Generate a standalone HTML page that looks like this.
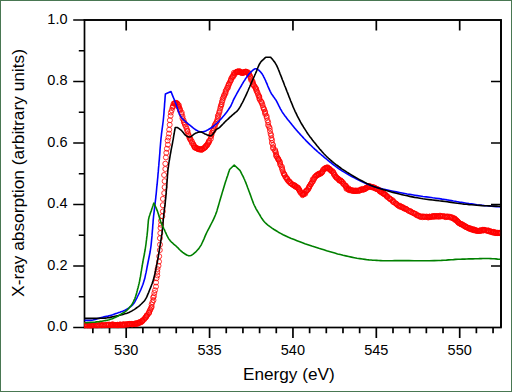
<!DOCTYPE html>
<html><head><meta charset="utf-8"><style>
html,body{margin:0;padding:0;background:#fff;}
body{width:512px;height:392px;position:relative;overflow:hidden;font-family:"Liberation Sans",sans-serif;color:#000;}
.frame{position:absolute;left:0;top:0;width:510px;height:390px;border:1px solid #497752;}
.yl{position:absolute;left:20px;width:47.5px;text-align:right;font-size:14.5px;line-height:20px;}
.xl{position:absolute;top:340.2px;width:60px;text-align:center;font-size:14.5px;line-height:20px;}
.xt{position:absolute;left:243px;top:363px;font-size:17.2px;line-height:22px;white-space:nowrap;}
.yt{position:absolute;left:18.2px;top:173.3px;font-size:17.3px;line-height:22px;white-space:nowrap;transform:translate(-50%,-50%) rotate(-90deg);}
</style></head><body>
<svg width="512" height="392" viewBox="0 0 512 392" style="position:absolute;left:0;top:0"><defs><clipPath id="c"><rect x="84" y="19" width="417" height="309.3"/></clipPath></defs><g stroke="#000" stroke-width="1.7" fill="none" stroke-linecap="butt"><rect x="84.5" y="20.0" width="416.5" height="307.5"/><path d="M73.2,327.50H84.5M73.2,266.00H84.5M73.2,204.50H84.5M73.2,143.00H84.5M73.2,81.50H84.5M73.2,20.00H84.5M78.8,296.75H84.5M78.8,235.25H84.5M78.8,173.75H84.5M78.8,112.25H84.5M78.8,50.75H84.5M92.85,327.5V333.3M109.53,327.5V333.3M126.20,327.5V338M142.88,327.5V333.3M159.55,327.5V333.3M176.23,327.5V333.3M192.90,327.5V333.3M209.57,327.5V338M226.25,327.5V333.3M242.93,327.5V333.3M259.60,327.5V333.3M276.28,327.5V333.3M292.95,327.5V338M309.62,327.5V333.3M326.30,327.5V333.3M342.98,327.5V333.3M359.65,327.5V333.3M376.32,327.5V338M393.00,327.5V333.3M409.68,327.5V333.3M426.35,327.5V333.3M443.02,327.5V333.3M459.70,327.5V338M476.38,327.5V333.3M493.05,327.5V333.3"/></g><g clip-path="url(#c)"><g fill="none" stroke="#ff0000" stroke-width="0.8" opacity="1"><circle cx="85.1" cy="324.8" r="2.5"/><circle cx="85.1" cy="325.4" r="2.5"/><circle cx="85.3" cy="325.5" r="2.5"/><circle cx="85.2" cy="325.5" r="2.5"/><circle cx="86.0" cy="326.6" r="2.5"/><circle cx="86.8" cy="325.5" r="2.5"/><circle cx="87.1" cy="325.4" r="2.5"/><circle cx="87.4" cy="325.4" r="2.5"/><circle cx="88.3" cy="325.5" r="2.5"/><circle cx="88.9" cy="325.5" r="2.5"/><circle cx="89.0" cy="326.0" r="2.5"/><circle cx="89.6" cy="325.4" r="2.5"/><circle cx="89.9" cy="325.7" r="2.5"/><circle cx="91.0" cy="325.4" r="2.5"/><circle cx="90.8" cy="325.8" r="2.5"/><circle cx="91.0" cy="325.4" r="2.5"/><circle cx="92.0" cy="325.7" r="2.5"/><circle cx="92.2" cy="325.7" r="2.5"/><circle cx="91.8" cy="325.8" r="2.5"/><circle cx="92.8" cy="325.0" r="2.5"/><circle cx="93.6" cy="325.7" r="2.5"/><circle cx="94.3" cy="325.1" r="2.5"/><circle cx="95.4" cy="325.4" r="2.5"/><circle cx="96.7" cy="325.7" r="2.5"/><circle cx="97.2" cy="325.8" r="2.5"/><circle cx="97.9" cy="325.1" r="2.5"/><circle cx="99.0" cy="325.6" r="2.5"/><circle cx="99.6" cy="325.1" r="2.5"/><circle cx="100.5" cy="324.6" r="2.5"/><circle cx="101.4" cy="325.5" r="2.5"/><circle cx="101.5" cy="325.3" r="2.5"/><circle cx="102.5" cy="325.5" r="2.5"/><circle cx="103.0" cy="325.0" r="2.5"/><circle cx="104.6" cy="325.5" r="2.5"/><circle cx="104.5" cy="325.0" r="2.5"/><circle cx="106.0" cy="325.0" r="2.5"/><circle cx="107.2" cy="324.8" r="2.5"/><circle cx="107.6" cy="324.8" r="2.5"/><circle cx="108.8" cy="325.0" r="2.5"/><circle cx="109.1" cy="324.5" r="2.5"/><circle cx="110.5" cy="325.2" r="2.5"/><circle cx="110.7" cy="325.3" r="2.5"/><circle cx="111.1" cy="324.8" r="2.5"/><circle cx="111.2" cy="324.7" r="2.5"/><circle cx="112.4" cy="324.5" r="2.5"/><circle cx="112.3" cy="324.8" r="2.5"/><circle cx="113.0" cy="325.1" r="2.5"/><circle cx="113.1" cy="324.4" r="2.5"/><circle cx="114.0" cy="325.3" r="2.5"/><circle cx="114.8" cy="325.0" r="2.5"/><circle cx="115.0" cy="325.0" r="2.5"/><circle cx="115.5" cy="325.1" r="2.5"/><circle cx="115.9" cy="324.9" r="2.5"/><circle cx="116.6" cy="325.0" r="2.5"/><circle cx="117.2" cy="325.6" r="2.5"/><circle cx="118.1" cy="325.3" r="2.5"/><circle cx="117.6" cy="324.7" r="2.5"/><circle cx="118.6" cy="325.0" r="2.5"/><circle cx="118.6" cy="325.2" r="2.5"/><circle cx="120.1" cy="324.4" r="2.5"/><circle cx="120.0" cy="324.6" r="2.5"/><circle cx="120.8" cy="325.0" r="2.5"/><circle cx="121.9" cy="324.7" r="2.5"/><circle cx="122.0" cy="324.8" r="2.5"/><circle cx="122.8" cy="325.0" r="2.5"/><circle cx="123.2" cy="324.4" r="2.5"/><circle cx="123.2" cy="324.4" r="2.5"/><circle cx="124.1" cy="324.9" r="2.5"/><circle cx="124.0" cy="324.5" r="2.5"/><circle cx="125.1" cy="324.4" r="2.5"/><circle cx="125.3" cy="324.7" r="2.5"/><circle cx="127.0" cy="324.4" r="2.5"/><circle cx="126.6" cy="324.1" r="2.5"/><circle cx="127.0" cy="324.6" r="2.5"/><circle cx="128.2" cy="324.4" r="2.5"/><circle cx="128.6" cy="324.3" r="2.5"/><circle cx="129.1" cy="323.8" r="2.5"/><circle cx="129.5" cy="324.2" r="2.5"/><circle cx="129.9" cy="324.0" r="2.5"/><circle cx="130.4" cy="324.0" r="2.5"/><circle cx="131.4" cy="323.9" r="2.5"/><circle cx="131.6" cy="324.2" r="2.5"/><circle cx="132.3" cy="324.4" r="2.5"/><circle cx="131.9" cy="324.1" r="2.5"/><circle cx="133.0" cy="323.8" r="2.5"/><circle cx="134.0" cy="324.0" r="2.5"/><circle cx="134.6" cy="323.7" r="2.5"/><circle cx="135.3" cy="323.5" r="2.5"/><circle cx="135.3" cy="323.7" r="2.5"/><circle cx="135.7" cy="324.1" r="2.5"/><circle cx="136.7" cy="324.0" r="2.5"/><circle cx="136.9" cy="323.1" r="2.5"/><circle cx="137.4" cy="323.3" r="2.5"/><circle cx="137.7" cy="323.1" r="2.5"/><circle cx="138.4" cy="323.4" r="2.5"/><circle cx="138.7" cy="323.1" r="2.5"/><circle cx="139.2" cy="322.3" r="2.5"/><circle cx="139.7" cy="322.1" r="2.5"/><circle cx="140.5" cy="322.5" r="2.5"/><circle cx="141.0" cy="322.1" r="2.5"/><circle cx="142.1" cy="321.6" r="2.5"/><circle cx="142.2" cy="320.9" r="2.5"/><circle cx="142.3" cy="320.7" r="2.5"/><circle cx="142.9" cy="320.1" r="2.5"/><circle cx="144.0" cy="319.6" r="2.5"/><circle cx="144.6" cy="318.4" r="2.5"/><circle cx="145.4" cy="317.8" r="2.5"/><circle cx="145.8" cy="317.3" r="2.5"/><circle cx="146.3" cy="316.6" r="2.5"/><circle cx="146.6" cy="315.9" r="2.5"/><circle cx="146.7" cy="315.3" r="2.5"/><circle cx="147.6" cy="314.8" r="2.5"/><circle cx="148.9" cy="313.1" r="2.5"/><circle cx="149.0" cy="312.7" r="2.5"/><circle cx="149.2" cy="312.0" r="2.5"/><circle cx="149.8" cy="310.4" r="2.5"/><circle cx="150.4" cy="309.6" r="2.5"/><circle cx="151.1" cy="307.8" r="2.5"/><circle cx="151.7" cy="306.9" r="2.5"/><circle cx="151.6" cy="304.5" r="2.5"/><circle cx="152.4" cy="302.2" r="2.5"/><circle cx="153.5" cy="300.1" r="2.5"/><circle cx="153.1" cy="297.5" r="2.5"/><circle cx="153.9" cy="296.2" r="2.5"/><circle cx="154.3" cy="293.0" r="2.5"/><circle cx="155.0" cy="290.3" r="2.5"/><circle cx="156.0" cy="286.6" r="2.5"/><circle cx="156.0" cy="282.5" r="2.5"/><circle cx="156.5" cy="278.2" r="2.5"/><circle cx="157.3" cy="275.4" r="2.5"/><circle cx="157.3" cy="272.0" r="2.5"/><circle cx="157.5" cy="269.1" r="2.5"/><circle cx="158.5" cy="265.8" r="2.5"/><circle cx="159.0" cy="261.6" r="2.5"/><circle cx="159.2" cy="256.3" r="2.5"/><circle cx="159.8" cy="250.1" r="2.5"/><circle cx="160.0" cy="244.6" r="2.5"/><circle cx="159.9" cy="238.2" r="2.5"/><circle cx="160.3" cy="233.1" r="2.5"/><circle cx="160.5" cy="227.9" r="2.5"/><circle cx="161.0" cy="224.7" r="2.5"/><circle cx="161.0" cy="220.8" r="2.5"/><circle cx="162.3" cy="216.2" r="2.5"/><circle cx="162.9" cy="211.4" r="2.5"/><circle cx="162.8" cy="205.2" r="2.5"/><circle cx="162.9" cy="198.9" r="2.5"/><circle cx="164.2" cy="193.1" r="2.5"/><circle cx="164.6" cy="187.2" r="2.5"/><circle cx="164.6" cy="181.2" r="2.5"/><circle cx="164.1" cy="175.0" r="2.5"/><circle cx="165.3" cy="169.0" r="2.5"/><circle cx="165.3" cy="163.7" r="2.5"/><circle cx="165.9" cy="157.4" r="2.5"/><circle cx="166.3" cy="152.8" r="2.5"/><circle cx="166.9" cy="148.7" r="2.5"/><circle cx="167.9" cy="144.7" r="2.5"/><circle cx="167.6" cy="140.6" r="2.5"/><circle cx="168.4" cy="137.5" r="2.5"/><circle cx="169.0" cy="133.6" r="2.5"/><circle cx="169.2" cy="129.7" r="2.5"/><circle cx="169.7" cy="124.8" r="2.5"/><circle cx="169.9" cy="120.2" r="2.5"/><circle cx="170.6" cy="115.8" r="2.5"/><circle cx="170.9" cy="112.5" r="2.5"/><circle cx="171.7" cy="110.2" r="2.5"/><circle cx="172.5" cy="107.5" r="2.5"/><circle cx="173.0" cy="106.5" r="2.5"/><circle cx="173.1" cy="105.7" r="2.5"/><circle cx="173.6" cy="103.6" r="2.5"/><circle cx="174.5" cy="103.7" r="2.5"/><circle cx="175.2" cy="103.1" r="2.5"/><circle cx="174.9" cy="103.4" r="2.5"/><circle cx="175.4" cy="102.9" r="2.5"/><circle cx="176.6" cy="102.9" r="2.5"/><circle cx="176.6" cy="103.3" r="2.5"/><circle cx="177.4" cy="103.6" r="2.5"/><circle cx="177.9" cy="104.7" r="2.5"/><circle cx="178.9" cy="105.3" r="2.5"/><circle cx="178.4" cy="106.6" r="2.5"/><circle cx="179.0" cy="107.4" r="2.5"/><circle cx="179.7" cy="108.7" r="2.5"/><circle cx="179.9" cy="109.4" r="2.5"/><circle cx="180.0" cy="110.7" r="2.5"/><circle cx="181.7" cy="112.5" r="2.5"/><circle cx="181.6" cy="114.1" r="2.5"/><circle cx="182.5" cy="116.4" r="2.5"/><circle cx="182.5" cy="118.4" r="2.5"/><circle cx="183.6" cy="120.3" r="2.5"/><circle cx="183.8" cy="122.1" r="2.5"/><circle cx="184.7" cy="123.2" r="2.5"/><circle cx="184.9" cy="124.8" r="2.5"/><circle cx="185.9" cy="126.6" r="2.5"/><circle cx="186.6" cy="128.6" r="2.5"/><circle cx="187.3" cy="130.5" r="2.5"/><circle cx="187.5" cy="131.4" r="2.5"/><circle cx="188.2" cy="133.9" r="2.5"/><circle cx="188.8" cy="135.5" r="2.5"/><circle cx="189.3" cy="136.8" r="2.5"/><circle cx="189.6" cy="138.3" r="2.5"/><circle cx="190.5" cy="138.9" r="2.5"/><circle cx="190.6" cy="140.2" r="2.5"/><circle cx="192.0" cy="141.5" r="2.5"/><circle cx="191.9" cy="143.0" r="2.5"/><circle cx="193.2" cy="143.9" r="2.5"/><circle cx="193.6" cy="145.0" r="2.5"/><circle cx="194.1" cy="145.8" r="2.5"/><circle cx="194.4" cy="146.9" r="2.5"/><circle cx="195.1" cy="147.6" r="2.5"/><circle cx="194.9" cy="147.6" r="2.5"/><circle cx="196.3" cy="147.7" r="2.5"/><circle cx="196.7" cy="148.4" r="2.5"/><circle cx="197.3" cy="148.4" r="2.5"/><circle cx="197.8" cy="149.1" r="2.5"/><circle cx="198.8" cy="149.1" r="2.5"/><circle cx="199.1" cy="149.4" r="2.5"/><circle cx="200.1" cy="149.1" r="2.5"/><circle cx="200.0" cy="149.6" r="2.5"/><circle cx="200.7" cy="149.4" r="2.5"/><circle cx="201.7" cy="149.7" r="2.5"/><circle cx="201.9" cy="149.6" r="2.5"/><circle cx="202.3" cy="149.3" r="2.5"/><circle cx="202.9" cy="148.5" r="2.5"/><circle cx="204.1" cy="148.3" r="2.5"/><circle cx="204.3" cy="147.8" r="2.5"/><circle cx="205.2" cy="147.3" r="2.5"/><circle cx="205.5" cy="147.0" r="2.5"/><circle cx="205.8" cy="145.9" r="2.5"/><circle cx="206.4" cy="145.7" r="2.5"/><circle cx="207.3" cy="145.1" r="2.5"/><circle cx="207.5" cy="144.0" r="2.5"/><circle cx="208.3" cy="143.0" r="2.5"/><circle cx="208.8" cy="142.4" r="2.5"/><circle cx="208.8" cy="141.2" r="2.5"/><circle cx="209.5" cy="140.7" r="2.5"/><circle cx="210.9" cy="138.7" r="2.5"/><circle cx="210.7" cy="136.5" r="2.5"/><circle cx="211.3" cy="135.6" r="2.5"/><circle cx="211.5" cy="134.3" r="2.5"/><circle cx="211.8" cy="132.8" r="2.5"/><circle cx="212.9" cy="131.0" r="2.5"/><circle cx="213.6" cy="130.3" r="2.5"/><circle cx="213.5" cy="128.0" r="2.5"/><circle cx="214.7" cy="126.9" r="2.5"/><circle cx="214.7" cy="125.3" r="2.5"/><circle cx="215.5" cy="123.8" r="2.5"/><circle cx="216.4" cy="122.3" r="2.5"/><circle cx="217.2" cy="121.1" r="2.5"/><circle cx="217.4" cy="119.4" r="2.5"/><circle cx="218.1" cy="117.7" r="2.5"/><circle cx="217.8" cy="116.0" r="2.5"/><circle cx="218.7" cy="114.5" r="2.5"/><circle cx="219.2" cy="112.4" r="2.5"/><circle cx="219.7" cy="111.0" r="2.5"/><circle cx="220.2" cy="108.6" r="2.5"/><circle cx="220.7" cy="106.8" r="2.5"/><circle cx="221.1" cy="105.2" r="2.5"/><circle cx="221.6" cy="104.2" r="2.5"/><circle cx="221.9" cy="102.0" r="2.5"/><circle cx="222.5" cy="100.5" r="2.5"/><circle cx="222.7" cy="98.6" r="2.5"/><circle cx="223.5" cy="97.6" r="2.5"/><circle cx="224.0" cy="96.0" r="2.5"/><circle cx="224.2" cy="95.0" r="2.5"/><circle cx="225.4" cy="93.7" r="2.5"/><circle cx="225.5" cy="92.4" r="2.5"/><circle cx="225.7" cy="90.9" r="2.5"/><circle cx="226.5" cy="89.8" r="2.5"/><circle cx="227.1" cy="88.0" r="2.5"/><circle cx="228.0" cy="87.6" r="2.5"/><circle cx="228.1" cy="85.9" r="2.5"/><circle cx="228.8" cy="84.8" r="2.5"/><circle cx="228.9" cy="83.8" r="2.5"/><circle cx="229.8" cy="82.5" r="2.5"/><circle cx="230.5" cy="80.9" r="2.5"/><circle cx="230.9" cy="80.2" r="2.5"/><circle cx="231.2" cy="78.8" r="2.5"/><circle cx="231.8" cy="77.4" r="2.5"/><circle cx="232.8" cy="77.2" r="2.5"/><circle cx="232.9" cy="76.4" r="2.5"/><circle cx="233.2" cy="75.2" r="2.5"/><circle cx="234.5" cy="74.8" r="2.5"/><circle cx="233.9" cy="72.8" r="2.5"/><circle cx="234.8" cy="73.5" r="2.5"/><circle cx="235.5" cy="72.6" r="2.5"/><circle cx="236.4" cy="71.9" r="2.5"/><circle cx="236.7" cy="72.1" r="2.5"/><circle cx="237.2" cy="71.7" r="2.5"/><circle cx="237.4" cy="71.6" r="2.5"/><circle cx="237.9" cy="71.8" r="2.5"/><circle cx="239.2" cy="71.2" r="2.5"/><circle cx="238.3" cy="71.4" r="2.5"/><circle cx="239.5" cy="71.9" r="2.5"/><circle cx="240.2" cy="71.5" r="2.5"/><circle cx="240.2" cy="72.3" r="2.5"/><circle cx="240.6" cy="72.5" r="2.5"/><circle cx="241.3" cy="72.7" r="2.5"/><circle cx="242.0" cy="72.9" r="2.5"/><circle cx="242.6" cy="72.5" r="2.5"/><circle cx="242.9" cy="72.8" r="2.5"/><circle cx="243.4" cy="73.0" r="2.5"/><circle cx="243.8" cy="72.2" r="2.5"/><circle cx="244.2" cy="72.1" r="2.5"/><circle cx="245.1" cy="71.8" r="2.5"/><circle cx="245.7" cy="72.0" r="2.5"/><circle cx="245.8" cy="71.5" r="2.5"/><circle cx="246.4" cy="72.0" r="2.5"/><circle cx="246.3" cy="72.2" r="2.5"/><circle cx="247.9" cy="72.2" r="2.5"/><circle cx="248.0" cy="73.3" r="2.5"/><circle cx="248.7" cy="73.0" r="2.5"/><circle cx="248.9" cy="74.2" r="2.5"/><circle cx="249.3" cy="74.5" r="2.5"/><circle cx="250.1" cy="76.0" r="2.5"/><circle cx="250.4" cy="77.3" r="2.5"/><circle cx="251.1" cy="78.5" r="2.5"/><circle cx="251.1" cy="80.0" r="2.5"/><circle cx="252.3" cy="80.9" r="2.5"/><circle cx="252.9" cy="82.3" r="2.5"/><circle cx="252.8" cy="83.6" r="2.5"/><circle cx="253.2" cy="84.5" r="2.5"/><circle cx="253.9" cy="85.4" r="2.5"/><circle cx="254.2" cy="86.1" r="2.5"/><circle cx="255.4" cy="87.4" r="2.5"/><circle cx="255.7" cy="88.4" r="2.5"/><circle cx="256.3" cy="89.2" r="2.5"/><circle cx="256.4" cy="90.7" r="2.5"/><circle cx="257.0" cy="91.7" r="2.5"/><circle cx="257.7" cy="93.1" r="2.5"/><circle cx="258.2" cy="95.0" r="2.5"/><circle cx="259.1" cy="96.1" r="2.5"/><circle cx="259.3" cy="96.9" r="2.5"/><circle cx="259.4" cy="98.3" r="2.5"/><circle cx="259.7" cy="99.6" r="2.5"/><circle cx="261.0" cy="101.5" r="2.5"/><circle cx="261.6" cy="102.1" r="2.5"/><circle cx="261.9" cy="103.4" r="2.5"/><circle cx="262.6" cy="105.1" r="2.5"/><circle cx="263.2" cy="107.4" r="2.5"/><circle cx="263.8" cy="108.8" r="2.5"/><circle cx="264.1" cy="109.5" r="2.5"/><circle cx="265.1" cy="111.6" r="2.5"/><circle cx="265.0" cy="112.6" r="2.5"/><circle cx="265.3" cy="114.1" r="2.5"/><circle cx="266.6" cy="116.0" r="2.5"/><circle cx="266.7" cy="117.6" r="2.5"/><circle cx="267.5" cy="120.4" r="2.5"/><circle cx="268.2" cy="122.4" r="2.5"/><circle cx="268.1" cy="125.1" r="2.5"/><circle cx="269.0" cy="126.7" r="2.5"/><circle cx="269.7" cy="128.2" r="2.5"/><circle cx="270.0" cy="131.0" r="2.5"/><circle cx="270.6" cy="133.8" r="2.5"/><circle cx="271.2" cy="135.3" r="2.5"/><circle cx="271.4" cy="138.3" r="2.5"/><circle cx="272.0" cy="140.1" r="2.5"/><circle cx="271.9" cy="143.0" r="2.5"/><circle cx="273.1" cy="145.0" r="2.5"/><circle cx="273.0" cy="147.4" r="2.5"/><circle cx="273.2" cy="148.6" r="2.5"/><circle cx="275.2" cy="150.1" r="2.5"/><circle cx="275.1" cy="151.2" r="2.5"/><circle cx="275.9" cy="152.5" r="2.5"/><circle cx="276.1" cy="154.3" r="2.5"/><circle cx="276.2" cy="155.8" r="2.5"/><circle cx="276.6" cy="156.5" r="2.5"/><circle cx="277.5" cy="157.6" r="2.5"/><circle cx="278.1" cy="158.8" r="2.5"/><circle cx="278.3" cy="159.3" r="2.5"/><circle cx="278.7" cy="160.2" r="2.5"/><circle cx="279.6" cy="161.2" r="2.5"/><circle cx="280.0" cy="162.5" r="2.5"/><circle cx="280.1" cy="164.0" r="2.5"/><circle cx="280.6" cy="165.4" r="2.5"/><circle cx="281.9" cy="166.8" r="2.5"/><circle cx="282.0" cy="168.3" r="2.5"/><circle cx="282.3" cy="169.7" r="2.5"/><circle cx="282.9" cy="171.4" r="2.5"/><circle cx="283.6" cy="173.3" r="2.5"/><circle cx="284.1" cy="174.0" r="2.5"/><circle cx="284.5" cy="174.7" r="2.5"/><circle cx="284.7" cy="175.2" r="2.5"/><circle cx="285.5" cy="177.2" r="2.5"/><circle cx="286.2" cy="177.5" r="2.5"/><circle cx="287.1" cy="178.4" r="2.5"/><circle cx="287.0" cy="179.0" r="2.5"/><circle cx="287.5" cy="180.2" r="2.5"/><circle cx="289.0" cy="181.0" r="2.5"/><circle cx="288.7" cy="181.5" r="2.5"/><circle cx="289.5" cy="181.7" r="2.5"/><circle cx="290.2" cy="183.0" r="2.5"/><circle cx="290.9" cy="183.4" r="2.5"/><circle cx="291.1" cy="183.2" r="2.5"/><circle cx="292.5" cy="184.5" r="2.5"/><circle cx="292.3" cy="184.6" r="2.5"/><circle cx="293.4" cy="185.1" r="2.5"/><circle cx="294.1" cy="185.2" r="2.5"/><circle cx="294.7" cy="185.8" r="2.5"/><circle cx="295.1" cy="185.5" r="2.5"/><circle cx="294.7" cy="186.2" r="2.5"/><circle cx="295.6" cy="186.8" r="2.5"/><circle cx="296.8" cy="187.1" r="2.5"/><circle cx="296.9" cy="187.3" r="2.5"/><circle cx="297.9" cy="187.5" r="2.5"/><circle cx="298.4" cy="188.4" r="2.5"/><circle cx="298.7" cy="189.1" r="2.5"/><circle cx="298.9" cy="189.5" r="2.5"/><circle cx="299.3" cy="189.8" r="2.5"/><circle cx="299.7" cy="190.9" r="2.5"/><circle cx="300.2" cy="191.7" r="2.5"/><circle cx="300.6" cy="192.8" r="2.5"/><circle cx="302.0" cy="193.3" r="2.5"/><circle cx="302.4" cy="194.1" r="2.5"/><circle cx="303.0" cy="194.4" r="2.5"/><circle cx="302.5" cy="195.2" r="2.5"/><circle cx="303.4" cy="194.4" r="2.5"/><circle cx="303.7" cy="194.0" r="2.5"/><circle cx="304.3" cy="193.7" r="2.5"/><circle cx="305.3" cy="193.7" r="2.5"/><circle cx="304.9" cy="192.2" r="2.5"/><circle cx="305.8" cy="191.2" r="2.5"/><circle cx="306.5" cy="191.0" r="2.5"/><circle cx="306.8" cy="190.2" r="2.5"/><circle cx="307.6" cy="190.1" r="2.5"/><circle cx="308.4" cy="188.9" r="2.5"/><circle cx="308.7" cy="188.0" r="2.5"/><circle cx="309.1" cy="187.1" r="2.5"/><circle cx="309.6" cy="186.3" r="2.5"/><circle cx="309.6" cy="185.8" r="2.5"/><circle cx="310.7" cy="184.4" r="2.5"/><circle cx="310.9" cy="184.0" r="2.5"/><circle cx="311.6" cy="182.8" r="2.5"/><circle cx="312.1" cy="182.0" r="2.5"/><circle cx="313.0" cy="181.2" r="2.5"/><circle cx="312.7" cy="179.4" r="2.5"/><circle cx="313.7" cy="179.5" r="2.5"/><circle cx="314.3" cy="178.5" r="2.5"/><circle cx="314.6" cy="177.0" r="2.5"/><circle cx="315.6" cy="176.7" r="2.5"/><circle cx="316.1" cy="175.7" r="2.5"/><circle cx="316.5" cy="175.5" r="2.5"/><circle cx="317.2" cy="175.1" r="2.5"/><circle cx="317.3" cy="174.8" r="2.5"/><circle cx="318.4" cy="174.6" r="2.5"/><circle cx="318.3" cy="174.0" r="2.5"/><circle cx="318.8" cy="174.5" r="2.5"/><circle cx="319.1" cy="173.5" r="2.5"/><circle cx="320.4" cy="173.8" r="2.5"/><circle cx="320.7" cy="173.3" r="2.5"/><circle cx="321.5" cy="172.9" r="2.5"/><circle cx="321.8" cy="172.5" r="2.5"/><circle cx="322.4" cy="171.9" r="2.5"/><circle cx="322.6" cy="171.0" r="2.5"/><circle cx="323.1" cy="169.7" r="2.5"/><circle cx="324.1" cy="169.2" r="2.5"/><circle cx="324.6" cy="168.6" r="2.5"/><circle cx="325.5" cy="168.4" r="2.5"/><circle cx="325.2" cy="168.1" r="2.5"/><circle cx="326.4" cy="167.6" r="2.5"/><circle cx="326.8" cy="168.4" r="2.5"/><circle cx="327.4" cy="167.9" r="2.5"/><circle cx="327.4" cy="168.2" r="2.5"/><circle cx="327.6" cy="167.3" r="2.5"/><circle cx="328.3" cy="168.2" r="2.5"/><circle cx="329.5" cy="168.9" r="2.5"/><circle cx="329.2" cy="168.8" r="2.5"/><circle cx="330.1" cy="169.3" r="2.5"/><circle cx="330.2" cy="170.0" r="2.5"/><circle cx="330.9" cy="170.4" r="2.5"/><circle cx="331.5" cy="171.3" r="2.5"/><circle cx="332.5" cy="171.1" r="2.5"/><circle cx="333.4" cy="172.3" r="2.5"/><circle cx="333.5" cy="172.9" r="2.5"/><circle cx="333.8" cy="174.0" r="2.5"/><circle cx="334.3" cy="175.0" r="2.5"/><circle cx="335.1" cy="175.3" r="2.5"/><circle cx="335.4" cy="176.6" r="2.5"/><circle cx="336.2" cy="177.0" r="2.5"/><circle cx="336.5" cy="177.8" r="2.5"/><circle cx="336.8" cy="177.9" r="2.5"/><circle cx="338.1" cy="178.6" r="2.5"/><circle cx="338.2" cy="178.9" r="2.5"/><circle cx="339.1" cy="180.0" r="2.5"/><circle cx="339.1" cy="180.0" r="2.5"/><circle cx="339.5" cy="180.7" r="2.5"/><circle cx="340.5" cy="180.2" r="2.5"/><circle cx="341.2" cy="181.0" r="2.5"/><circle cx="341.4" cy="181.3" r="2.5"/><circle cx="341.6" cy="181.5" r="2.5"/><circle cx="342.7" cy="182.2" r="2.5"/><circle cx="342.9" cy="183.6" r="2.5"/><circle cx="343.7" cy="183.7" r="2.5"/><circle cx="344.3" cy="184.9" r="2.5"/><circle cx="345.4" cy="185.7" r="2.5"/><circle cx="345.9" cy="185.7" r="2.5"/><circle cx="346.0" cy="186.6" r="2.5"/><circle cx="346.5" cy="187.5" r="2.5"/><circle cx="346.4" cy="188.8" r="2.5"/><circle cx="347.2" cy="188.5" r="2.5"/><circle cx="348.2" cy="189.1" r="2.5"/><circle cx="348.6" cy="188.3" r="2.5"/><circle cx="348.7" cy="189.7" r="2.5"/><circle cx="349.2" cy="189.4" r="2.5"/><circle cx="349.2" cy="190.3" r="2.5"/><circle cx="350.6" cy="189.9" r="2.5"/><circle cx="350.9" cy="190.3" r="2.5"/><circle cx="351.1" cy="190.3" r="2.5"/><circle cx="352.0" cy="190.7" r="2.5"/><circle cx="352.8" cy="190.6" r="2.5"/><circle cx="352.8" cy="190.8" r="2.5"/><circle cx="353.2" cy="190.4" r="2.5"/><circle cx="354.3" cy="190.7" r="2.5"/><circle cx="354.5" cy="191.0" r="2.5"/><circle cx="354.6" cy="191.0" r="2.5"/><circle cx="355.6" cy="190.8" r="2.5"/><circle cx="356.1" cy="190.6" r="2.5"/><circle cx="355.8" cy="190.7" r="2.5"/><circle cx="356.8" cy="191.0" r="2.5"/><circle cx="357.7" cy="190.5" r="2.5"/><circle cx="358.3" cy="191.0" r="2.5"/><circle cx="359.2" cy="190.6" r="2.5"/><circle cx="359.6" cy="190.3" r="2.5"/><circle cx="360.0" cy="190.4" r="2.5"/><circle cx="360.6" cy="190.2" r="2.5"/><circle cx="360.9" cy="189.4" r="2.5"/><circle cx="361.4" cy="189.6" r="2.5"/><circle cx="362.9" cy="189.9" r="2.5"/><circle cx="362.7" cy="188.9" r="2.5"/><circle cx="363.8" cy="189.3" r="2.5"/><circle cx="363.7" cy="189.3" r="2.5"/><circle cx="364.7" cy="189.2" r="2.5"/><circle cx="365.2" cy="188.9" r="2.5"/><circle cx="365.7" cy="188.1" r="2.5"/><circle cx="366.0" cy="187.9" r="2.5"/><circle cx="366.9" cy="187.5" r="2.5"/><circle cx="366.7" cy="187.6" r="2.5"/><circle cx="368.0" cy="187.5" r="2.5"/><circle cx="368.5" cy="186.4" r="2.5"/><circle cx="368.6" cy="186.4" r="2.5"/><circle cx="369.2" cy="185.9" r="2.5"/><circle cx="369.9" cy="186.6" r="2.5"/><circle cx="370.1" cy="186.6" r="2.5"/><circle cx="371.3" cy="186.7" r="2.5"/><circle cx="371.8" cy="187.1" r="2.5"/><circle cx="372.2" cy="187.1" r="2.5"/><circle cx="372.5" cy="187.5" r="2.5"/><circle cx="373.1" cy="187.2" r="2.5"/><circle cx="374.1" cy="187.4" r="2.5"/><circle cx="374.6" cy="188.2" r="2.5"/><circle cx="375.1" cy="188.2" r="2.5"/><circle cx="376.0" cy="188.7" r="2.5"/><circle cx="375.8" cy="188.4" r="2.5"/><circle cx="377.3" cy="189.2" r="2.5"/><circle cx="376.8" cy="189.0" r="2.5"/><circle cx="378.0" cy="189.4" r="2.5"/><circle cx="378.7" cy="190.1" r="2.5"/><circle cx="379.3" cy="190.0" r="2.5"/><circle cx="379.9" cy="191.4" r="2.5"/><circle cx="380.1" cy="191.6" r="2.5"/><circle cx="381.2" cy="191.8" r="2.5"/><circle cx="381.4" cy="191.6" r="2.5"/><circle cx="381.8" cy="192.7" r="2.5"/><circle cx="382.9" cy="193.2" r="2.5"/><circle cx="383.4" cy="193.6" r="2.5"/><circle cx="383.6" cy="193.4" r="2.5"/><circle cx="384.3" cy="194.4" r="2.5"/><circle cx="384.9" cy="194.3" r="2.5"/><circle cx="385.3" cy="194.7" r="2.5"/><circle cx="386.1" cy="195.3" r="2.5"/><circle cx="386.6" cy="196.2" r="2.5"/><circle cx="387.3" cy="197.1" r="2.5"/><circle cx="387.6" cy="196.5" r="2.5"/><circle cx="389.0" cy="198.2" r="2.5"/><circle cx="389.8" cy="198.5" r="2.5"/><circle cx="390.2" cy="199.0" r="2.5"/><circle cx="390.4" cy="199.4" r="2.5"/><circle cx="391.6" cy="200.0" r="2.5"/><circle cx="392.8" cy="200.3" r="2.5"/><circle cx="392.8" cy="201.7" r="2.5"/><circle cx="393.5" cy="201.7" r="2.5"/><circle cx="394.0" cy="202.4" r="2.5"/><circle cx="395.6" cy="203.3" r="2.5"/><circle cx="396.0" cy="203.5" r="2.5"/><circle cx="396.8" cy="204.3" r="2.5"/><circle cx="397.0" cy="204.6" r="2.5"/><circle cx="398.1" cy="205.5" r="2.5"/><circle cx="398.7" cy="205.7" r="2.5"/><circle cx="400.0" cy="205.7" r="2.5"/><circle cx="399.7" cy="206.6" r="2.5"/><circle cx="400.9" cy="206.7" r="2.5"/><circle cx="401.6" cy="206.9" r="2.5"/><circle cx="402.4" cy="207.3" r="2.5"/><circle cx="403.2" cy="207.4" r="2.5"/><circle cx="403.4" cy="208.1" r="2.5"/><circle cx="404.2" cy="208.6" r="2.5"/><circle cx="405.1" cy="208.5" r="2.5"/><circle cx="405.9" cy="208.9" r="2.5"/><circle cx="406.1" cy="209.0" r="2.5"/><circle cx="407.0" cy="209.6" r="2.5"/><circle cx="408.0" cy="210.4" r="2.5"/><circle cx="409.0" cy="211.1" r="2.5"/><circle cx="410.1" cy="210.9" r="2.5"/><circle cx="411.0" cy="211.8" r="2.5"/><circle cx="411.2" cy="212.1" r="2.5"/><circle cx="412.6" cy="212.6" r="2.5"/><circle cx="413.4" cy="213.1" r="2.5"/><circle cx="414.2" cy="213.4" r="2.5"/><circle cx="415.0" cy="213.9" r="2.5"/><circle cx="415.9" cy="214.0" r="2.5"/><circle cx="416.7" cy="215.3" r="2.5"/><circle cx="417.6" cy="215.4" r="2.5"/><circle cx="418.5" cy="215.5" r="2.5"/><circle cx="419.0" cy="216.0" r="2.5"/><circle cx="420.0" cy="216.7" r="2.5"/><circle cx="420.6" cy="216.9" r="2.5"/><circle cx="421.2" cy="216.5" r="2.5"/><circle cx="422.4" cy="217.2" r="2.5"/><circle cx="422.9" cy="216.3" r="2.5"/><circle cx="424.0" cy="217.0" r="2.5"/><circle cx="424.3" cy="216.7" r="2.5"/><circle cx="425.1" cy="217.0" r="2.5"/><circle cx="426.3" cy="216.5" r="2.5"/><circle cx="427.5" cy="216.9" r="2.5"/><circle cx="427.4" cy="217.1" r="2.5"/><circle cx="428.3" cy="217.5" r="2.5"/><circle cx="429.3" cy="216.7" r="2.5"/><circle cx="429.5" cy="216.6" r="2.5"/><circle cx="430.2" cy="216.9" r="2.5"/><circle cx="430.8" cy="217.1" r="2.5"/><circle cx="431.7" cy="216.6" r="2.5"/><circle cx="432.6" cy="216.0" r="2.5"/><circle cx="432.6" cy="216.7" r="2.5"/><circle cx="433.4" cy="216.5" r="2.5"/><circle cx="434.1" cy="216.3" r="2.5"/><circle cx="434.4" cy="216.0" r="2.5"/><circle cx="434.5" cy="216.8" r="2.5"/><circle cx="435.3" cy="216.1" r="2.5"/><circle cx="436.5" cy="216.6" r="2.5"/><circle cx="436.5" cy="216.1" r="2.5"/><circle cx="437.1" cy="216.0" r="2.5"/><circle cx="437.9" cy="216.3" r="2.5"/><circle cx="438.3" cy="216.4" r="2.5"/><circle cx="439.0" cy="216.7" r="2.5"/><circle cx="439.9" cy="215.7" r="2.5"/><circle cx="440.3" cy="215.9" r="2.5"/><circle cx="440.4" cy="216.5" r="2.5"/><circle cx="441.4" cy="216.2" r="2.5"/><circle cx="442.8" cy="216.1" r="2.5"/><circle cx="443.0" cy="216.4" r="2.5"/><circle cx="444.6" cy="216.6" r="2.5"/><circle cx="444.6" cy="216.3" r="2.5"/><circle cx="445.5" cy="217.1" r="2.5"/><circle cx="446.3" cy="216.8" r="2.5"/><circle cx="446.8" cy="216.5" r="2.5"/><circle cx="447.1" cy="216.8" r="2.5"/><circle cx="447.5" cy="216.7" r="2.5"/><circle cx="448.9" cy="216.5" r="2.5"/><circle cx="449.8" cy="217.2" r="2.5"/><circle cx="450.7" cy="216.9" r="2.5"/><circle cx="451.2" cy="217.8" r="2.5"/><circle cx="452.2" cy="217.4" r="2.5"/><circle cx="452.8" cy="218.3" r="2.5"/><circle cx="453.3" cy="218.3" r="2.5"/><circle cx="454.6" cy="218.5" r="2.5"/><circle cx="454.4" cy="218.5" r="2.5"/><circle cx="454.7" cy="219.7" r="2.5"/><circle cx="455.4" cy="219.3" r="2.5"/><circle cx="455.6" cy="220.0" r="2.5"/><circle cx="456.6" cy="220.3" r="2.5"/><circle cx="457.1" cy="220.8" r="2.5"/><circle cx="457.4" cy="221.5" r="2.5"/><circle cx="458.0" cy="221.7" r="2.5"/><circle cx="458.2" cy="222.4" r="2.5"/><circle cx="458.4" cy="222.7" r="2.5"/><circle cx="459.4" cy="223.4" r="2.5"/><circle cx="459.8" cy="223.4" r="2.5"/><circle cx="460.3" cy="223.6" r="2.5"/><circle cx="460.8" cy="224.3" r="2.5"/><circle cx="461.5" cy="224.2" r="2.5"/><circle cx="461.9" cy="224.2" r="2.5"/><circle cx="462.8" cy="225.0" r="2.5"/><circle cx="463.3" cy="225.1" r="2.5"/><circle cx="463.8" cy="225.9" r="2.5"/><circle cx="464.7" cy="225.7" r="2.5"/><circle cx="465.2" cy="226.4" r="2.5"/><circle cx="465.4" cy="226.8" r="2.5"/><circle cx="466.1" cy="226.9" r="2.5"/><circle cx="466.6" cy="227.3" r="2.5"/><circle cx="467.4" cy="227.5" r="2.5"/><circle cx="467.7" cy="227.6" r="2.5"/><circle cx="468.7" cy="228.4" r="2.5"/><circle cx="469.2" cy="228.7" r="2.5"/><circle cx="469.7" cy="228.2" r="2.5"/><circle cx="470.4" cy="228.4" r="2.5"/><circle cx="470.9" cy="229.3" r="2.5"/><circle cx="471.2" cy="229.1" r="2.5"/><circle cx="472.6" cy="229.4" r="2.5"/><circle cx="472.4" cy="229.8" r="2.5"/><circle cx="472.8" cy="229.7" r="2.5"/><circle cx="473.5" cy="229.2" r="2.5"/><circle cx="474.3" cy="229.8" r="2.5"/><circle cx="474.1" cy="230.4" r="2.5"/><circle cx="474.9" cy="230.0" r="2.5"/><circle cx="475.5" cy="230.2" r="2.5"/><circle cx="475.7" cy="230.2" r="2.5"/><circle cx="476.2" cy="230.8" r="2.5"/><circle cx="477.0" cy="230.9" r="2.5"/><circle cx="477.8" cy="230.8" r="2.5"/><circle cx="477.8" cy="230.8" r="2.5"/><circle cx="479.0" cy="230.8" r="2.5"/><circle cx="479.1" cy="230.8" r="2.5"/><circle cx="479.5" cy="230.9" r="2.5"/><circle cx="479.9" cy="230.6" r="2.5"/><circle cx="480.2" cy="230.3" r="2.5"/><circle cx="481.0" cy="230.7" r="2.5"/><circle cx="481.7" cy="230.4" r="2.5"/><circle cx="481.6" cy="230.5" r="2.5"/><circle cx="482.6" cy="229.8" r="2.5"/><circle cx="483.1" cy="230.4" r="2.5"/><circle cx="483.9" cy="229.8" r="2.5"/><circle cx="483.5" cy="230.4" r="2.5"/><circle cx="483.9" cy="230.0" r="2.5"/><circle cx="484.6" cy="229.9" r="2.5"/><circle cx="485.0" cy="230.3" r="2.5"/><circle cx="486.4" cy="230.6" r="2.5"/><circle cx="486.9" cy="230.5" r="2.5"/><circle cx="487.8" cy="230.9" r="2.5"/><circle cx="488.2" cy="230.4" r="2.5"/><circle cx="488.6" cy="230.7" r="2.5"/><circle cx="489.2" cy="231.3" r="2.5"/><circle cx="489.4" cy="231.5" r="2.5"/><circle cx="490.7" cy="231.7" r="2.5"/><circle cx="491.1" cy="231.5" r="2.5"/><circle cx="491.3" cy="231.6" r="2.5"/><circle cx="492.2" cy="232.4" r="2.5"/><circle cx="492.9" cy="232.2" r="2.5"/><circle cx="493.0" cy="232.4" r="2.5"/><circle cx="493.8" cy="231.8" r="2.5"/><circle cx="493.8" cy="232.4" r="2.5"/><circle cx="494.6" cy="233.0" r="2.5"/><circle cx="495.4" cy="232.3" r="2.5"/><circle cx="495.8" cy="233.1" r="2.5"/><circle cx="496.1" cy="233.0" r="2.5"/><circle cx="497.1" cy="233.2" r="2.5"/><circle cx="497.6" cy="232.7" r="2.5"/><circle cx="498.1" cy="232.9" r="2.5"/><circle cx="498.7" cy="232.9" r="2.5"/><circle cx="499.6" cy="233.0" r="2.5"/><circle cx="499.6" cy="232.8" r="2.5"/><circle cx="500.0" cy="233.1" r="2.5"/><circle cx="500.5" cy="233.4" r="2.5"/><circle cx="500.8" cy="233.0" r="2.5"/></g><path d="M84.5,320.4 L85.4,320.4 L86.3,320.4 L87.2,320.4 L88.1,320.4 L89.0,320.4 L89.9,320.4 L90.8,320.3 L91.8,320.2 L93.0,320.0 L94.1,319.7 L95.3,319.4 L96.6,319.0 L97.8,318.6 L99.0,318.2 L100.3,317.8 L101.5,317.5 L102.7,317.2 L104.0,316.9 L105.3,316.6 L106.6,316.3 L107.9,316.1 L109.1,315.8 L110.2,315.5 L111.3,315.2 L112.0,315.0 L112.7,314.8 L113.4,314.5 L114.0,314.3 L114.6,314.1 L115.2,313.8 L115.8,313.6 L116.4,313.4 L117.0,313.2 L117.6,313.0 L118.1,312.8 L118.7,312.6 L119.3,312.4 L119.9,312.2 L120.4,312.0 L121.0,311.8 L121.6,311.6 L122.1,311.4 L122.7,311.2 L123.3,311.0 L123.9,310.7 L124.4,310.5 L125.0,310.3 L125.5,310.0 L126.0,309.8 L126.4,309.5 L126.9,309.3 L127.3,309.0 L127.7,308.7 L128.1,308.4 L128.6,308.1 L129.0,307.8 L129.5,307.4 L130.1,307.0 L130.6,306.6 L131.2,306.1 L131.7,305.6 L132.3,305.1 L132.8,304.6 L133.3,304.0 L133.9,303.2 L134.5,302.3 L135.1,301.3 L135.7,300.2 L136.2,299.2 L136.8,298.1 L137.3,297.0 L137.8,296.0 L138.3,295.0 L138.8,294.0 L139.3,293.0 L139.7,292.0 L140.2,291.0 L140.7,290.0 L141.1,289.0 L141.5,288.0 L141.9,287.0 L142.3,286.1 L142.6,285.1 L143.0,284.2 L143.3,283.2 L143.6,282.2 L144.0,281.1 L144.3,280.0 L144.8,278.3 L145.2,276.4 L145.6,274.4 L146.1,272.4 L146.5,270.3 L146.9,268.1 L147.3,266.0 L147.7,264.0 L148.1,262.0 L148.5,260.0 L148.9,258.0 L149.3,256.0 L149.7,254.0 L150.1,252.0 L150.4,250.0 L150.7,248.0 L151.0,246.0 L151.2,244.0 L151.4,242.0 L151.6,239.9 L151.8,237.9 L152.0,235.9 L152.1,233.9 L152.3,232.0 L152.4,230.3 L152.6,228.6 L152.7,226.9 L152.8,225.2 L153.0,223.6 L153.1,221.9 L153.2,220.1 L153.4,218.3 L153.6,216.0 L153.9,213.6 L154.2,211.1 L154.5,208.5 L154.8,206.0 L155.1,203.4 L155.4,200.9 L155.7,198.4 L155.9,196.1 L156.2,193.8 L156.4,191.5 L156.6,189.3 L156.8,187.0 L157.1,184.7 L157.3,182.4 L157.5,180.0 L157.8,177.2 L158.0,174.3 L158.3,171.4 L158.5,168.4 L158.8,165.4 L159.0,162.5 L159.3,159.6 L159.5,156.8 L159.7,154.4 L159.9,152.0 L160.0,149.7 L160.2,147.5 L160.4,145.2 L160.6,142.9 L160.8,140.7 L161.0,138.4 L161.3,136.1 L161.5,133.9 L161.8,131.6 L162.1,129.4 L162.4,127.1 L162.7,124.8 L163.0,122.5 L163.3,120.0 L163.6,117.0 L163.9,113.8 L164.1,110.6 L164.4,107.3 L164.6,103.9 L164.9,100.6 L165.1,97.3 L165.4,94.0 L171.0,91.5 L171.7,93.2 L172.3,94.9 L173.0,96.6 L173.7,98.3 L174.4,99.9 L175.0,101.6 L175.7,103.3 L176.3,104.9 L176.8,106.4 L177.3,107.9 L177.8,109.4 L178.3,110.9 L178.8,112.4 L179.3,113.8 L180.0,115.1 L180.7,116.4 L181.5,117.5 L182.3,118.6 L183.2,119.5 L184.2,120.5 L185.2,121.4 L186.2,122.3 L187.3,123.2 L188.4,124.1 L189.8,125.2 L191.3,126.4 L192.8,127.7 L194.4,128.9 L196.1,130.0 L197.7,130.9 L199.3,131.6 L200.8,131.9 L202.0,131.9 L203.3,131.7 L204.5,131.4 L205.7,130.9 L207.0,130.3 L208.1,129.7 L209.3,129.0 L210.5,128.3 L211.8,127.5 L213.1,126.5 L214.4,125.5 L215.6,124.4 L216.9,123.2 L218.1,122.0 L219.3,120.8 L220.5,119.5 L221.8,118.1 L223.1,116.6 L224.4,115.1 L225.6,113.5 L226.8,111.9 L228.0,110.3 L229.0,108.8 L230.0,107.3 L230.7,106.2 L231.2,105.1 L231.7,104.0 L232.2,102.9 L232.7,101.8 L233.1,100.7 L233.6,99.6 L234.2,98.5 L234.9,97.2 L235.6,95.8 L236.4,94.4 L237.2,92.9 L238.0,91.5 L238.8,90.1 L239.6,88.7 L240.4,87.3 L241.2,86.0 L241.9,84.7 L242.7,83.4 L243.4,82.1 L244.2,80.9 L245.0,79.7 L245.7,78.5 L246.5,77.4 L247.1,76.5 L247.8,75.7 L248.4,74.8 L249.0,74.0 L249.7,73.3 L250.3,72.6 L251.0,71.9 L251.6,71.3 L252.1,70.9 L252.6,70.4 L253.2,70.0 L253.7,69.6 L254.2,69.2 L254.7,69.0 L255.2,68.8 L255.7,68.7 L256.1,68.7 L256.5,68.8 L256.9,69.0 L257.2,69.2 L257.6,69.4 L258.0,69.7 L258.3,69.9 L258.7,70.2 L259.1,70.5 L259.6,70.9 L260.0,71.4 L260.4,71.8 L260.8,72.3 L261.2,72.8 L261.6,73.3 L262.0,73.8 L262.4,74.4 L262.7,74.9 L263.1,75.5 L263.4,76.2 L263.7,76.8 L264.1,77.5 L264.4,78.2 L264.8,79.0 L265.5,80.4 L266.2,82.1 L267.0,83.9 L267.7,85.8 L268.5,87.7 L269.4,89.6 L270.2,91.3 L271.0,92.9 L271.6,94.0 L272.3,94.9 L272.9,95.8 L273.5,96.7 L274.2,97.6 L274.8,98.5 L275.5,99.4 L276.1,100.4 L276.8,101.7 L277.5,103.0 L278.2,104.4 L278.9,105.9 L279.7,107.3 L280.4,108.8 L281.2,110.2 L282.0,111.6 L282.9,113.0 L283.9,114.4 L284.8,115.7 L285.9,117.1 L286.9,118.4 L287.9,119.7 L289.0,121.0 L290.0,122.3 L291.0,123.5 L292.0,124.8 L293.0,126.0 L294.0,127.2 L295.0,128.4 L296.0,129.6 L297.0,130.7 L298.0,131.9 L299.0,133.0 L300.0,134.1 L301.0,135.2 L302.0,136.3 L303.0,137.4 L304.0,138.5 L305.0,139.5 L306.0,140.6 L307.0,141.6 L308.0,142.6 L309.0,143.6 L310.0,144.6 L311.0,145.5 L312.0,146.5 L313.0,147.5 L314.0,148.4 L315.0,149.3 L316.0,150.2 L317.0,151.1 L318.0,152.0 L319.0,152.8 L320.0,153.7 L321.0,154.5 L322.0,155.4 L323.0,156.2 L324.0,157.1 L324.9,157.9 L325.9,158.7 L326.9,159.5 L327.9,160.3 L328.9,161.2 L330.0,162.0 L331.2,162.9 L332.3,163.9 L333.5,164.8 L334.7,165.7 L336.0,166.7 L337.3,167.6 L338.6,168.6 L340.0,169.5 L341.8,170.7 L343.8,171.9 L345.8,173.1 L347.9,174.4 L350.0,175.6 L352.2,176.8 L354.4,177.9 L356.5,179.0 L358.6,180.0 L360.6,181.1 L362.7,182.1 L364.8,183.0 L366.9,183.9 L369.1,184.8 L371.3,185.7 L373.7,186.5 L376.7,187.4 L379.8,188.3 L383.0,189.1 L386.4,189.8 L389.7,190.5 L393.0,191.2 L396.3,191.9 L399.4,192.5 L402.1,193.0 L404.7,193.5 L407.2,194.0 L409.7,194.4 L412.2,194.8 L414.8,195.2 L417.3,195.6 L420.0,196.0 L423.0,196.5 L426.2,196.9 L429.4,197.3 L432.7,197.8 L435.9,198.2 L439.1,198.6 L442.1,199.1 L445.0,199.5 L447.2,199.9 L449.3,200.2 L451.4,200.6 L453.4,201.0 L455.3,201.3 L457.3,201.7 L459.4,202.1 L461.5,202.4 L464.0,202.8 L466.5,203.2 L469.1,203.6 L471.7,203.9 L474.3,204.3 L476.9,204.7 L479.5,205.0 L482.0,205.3 L484.4,205.6 L486.8,205.8 L489.2,206.0 L491.5,206.2 L493.9,206.4 L496.3,206.6 L498.6,206.8 L501.0,207.0" fill="none" stroke="#0000ff" stroke-width="1.6" stroke-linejoin="round"/><path d="M84.5,318.4 L86.0,318.4 L87.6,318.4 L89.1,318.4 L90.6,318.4 L92.2,318.4 L93.7,318.4 L95.1,318.4 L96.6,318.4 L97.9,318.4 L99.1,318.4 L100.4,318.3 L101.6,318.3 L102.8,318.3 L104.0,318.2 L105.2,318.1 L106.4,318.0 L107.6,317.8 L108.9,317.6 L110.1,317.4 L111.3,317.1 L112.6,316.8 L113.8,316.6 L115.0,316.3 L116.2,316.0 L117.3,315.7 L118.5,315.5 L119.7,315.2 L120.8,314.9 L121.9,314.7 L123.0,314.4 L124.0,314.1 L125.0,313.8 L125.7,313.6 L126.3,313.4 L127.0,313.2 L127.6,312.9 L128.2,312.7 L128.8,312.5 L129.4,312.2 L130.0,311.9 L130.8,311.5 L131.6,311.1 L132.4,310.6 L133.2,310.1 L134.1,309.6 L134.9,309.1 L135.6,308.5 L136.4,308.0 L137.1,307.5 L137.7,307.0 L138.3,306.6 L139.0,306.1 L139.6,305.6 L140.2,305.0 L140.7,304.5 L141.3,304.0 L141.8,303.5 L142.3,303.0 L142.8,302.5 L143.3,302.0 L143.8,301.5 L144.3,301.0 L144.7,300.4 L145.2,299.7 L145.8,298.7 L146.4,297.6 L147.0,296.4 L147.5,295.1 L148.0,293.9 L148.6,292.6 L149.1,291.3 L149.6,290.0 L150.1,288.8 L150.6,287.6 L151.1,286.4 L151.5,285.2 L152.0,284.0 L152.4,282.7 L152.9,281.4 L153.3,280.0 L153.8,278.2 L154.3,276.3 L154.8,274.3 L155.2,272.3 L155.7,270.2 L156.1,268.1 L156.5,266.0 L156.9,264.0 L157.3,262.0 L157.7,260.0 L158.0,258.0 L158.4,256.0 L158.7,254.0 L159.0,252.0 L159.4,250.0 L159.7,248.0 L160.0,246.0 L160.4,244.0 L160.7,241.9 L161.0,239.9 L161.3,237.9 L161.6,235.9 L161.9,233.9 L162.1,232.0 L162.3,230.3 L162.5,228.6 L162.6,226.9 L162.8,225.2 L162.9,223.6 L163.1,221.9 L163.2,220.1 L163.4,218.3 L163.7,216.0 L163.9,213.6 L164.2,211.1 L164.5,208.5 L164.9,206.0 L165.2,203.4 L165.4,200.9 L165.7,198.4 L165.9,196.0 L166.1,193.6 L166.3,191.2 L166.5,188.8 L166.7,186.4 L166.9,184.2 L167.0,182.0 L167.2,180.0 L167.3,178.7 L167.4,177.5 L167.4,176.3 L167.5,175.2 L167.6,174.1 L167.7,173.0 L167.8,171.8 L167.9,170.5 L168.1,168.7 L168.4,166.9 L168.6,164.9 L168.9,163.0 L169.2,161.0 L169.6,159.0 L169.9,157.1 L170.2,155.2 L170.5,153.6 L170.8,152.1 L171.0,150.6 L171.3,149.1 L171.6,147.6 L171.9,146.1 L172.2,144.6 L172.5,143.0 L172.8,141.2 L173.2,139.3 L173.5,137.4 L173.8,135.4 L174.2,133.5 L174.5,131.5 L174.9,129.5 L175.2,127.6 L175.5,127.6 L175.7,127.6 L176.0,127.5 L176.2,127.5 L176.5,127.5 L176.7,127.5 L177.0,127.5 L177.3,127.6 L177.8,127.8 L178.3,128.1 L178.8,128.4 L179.4,128.8 L180.0,129.3 L180.5,129.7 L181.1,130.2 L181.6,130.7 L182.2,131.3 L182.7,131.9 L183.3,132.6 L183.8,133.3 L184.3,134.0 L184.9,134.6 L185.4,135.1 L186.0,135.6 L186.5,135.9 L186.9,136.2 L187.4,136.4 L187.8,136.7 L188.3,136.8 L188.8,137.0 L189.3,137.0 L189.8,137.0 L190.5,136.8 L191.2,136.4 L191.9,135.9 L192.6,135.3 L193.4,134.7 L194.1,134.1 L194.9,133.6 L195.6,133.2 L196.2,132.9 L196.9,132.7 L197.5,132.5 L198.2,132.3 L198.8,132.1 L199.5,132.0 L200.1,132.0 L200.7,132.0 L201.3,132.1 L201.8,132.3 L202.4,132.5 L202.9,132.8 L203.5,133.1 L204.0,133.4 L204.5,133.7 L205.0,133.9 L205.4,134.1 L205.8,134.3 L206.2,134.4 L206.5,134.6 L206.9,134.8 L207.2,134.9 L207.6,135.1 L208.0,135.2 L208.4,135.3 L208.8,135.4 L209.2,135.6 L209.6,135.7 L210.1,135.7 L210.5,135.8 L210.9,135.7 L211.3,135.6 L211.9,135.2 L212.6,134.5 L213.2,133.7 L213.9,132.8 L214.5,131.8 L215.1,130.9 L215.7,130.1 L216.3,129.5 L216.6,129.2 L217.0,129.0 L217.3,128.8 L217.6,128.7 L217.9,128.5 L218.3,128.4 L218.6,128.2 L219.0,127.9 L219.7,127.3 L220.4,126.7 L221.1,125.9 L221.9,125.1 L222.7,124.3 L223.5,123.5 L224.3,122.6 L225.1,121.8 L226.0,120.9 L227.0,120.0 L228.0,119.1 L229.0,118.1 L230.0,117.2 L231.0,116.3 L232.0,115.4 L232.9,114.6 L233.6,114.0 L234.3,113.5 L234.9,112.9 L235.5,112.4 L236.2,111.9 L236.8,111.4 L237.4,110.7 L238.0,110.0 L238.9,108.8 L239.8,107.4 L240.7,105.9 L241.5,104.2 L242.4,102.6 L243.3,100.9 L244.1,99.2 L244.9,97.5 L245.7,95.8 L246.5,94.1 L247.3,92.3 L248.1,90.5 L248.8,88.8 L249.6,87.0 L250.3,85.3 L251.0,83.7 L251.6,82.4 L252.2,81.0 L252.7,79.8 L253.3,78.5 L253.8,77.3 L254.4,76.0 L254.9,74.8 L255.5,73.5 L256.1,72.1 L256.7,70.7 L257.2,69.2 L257.8,67.8 L258.4,66.4 L259.0,65.0 L259.7,63.7 L260.4,62.6 L261.0,61.8 L261.6,61.1 L262.3,60.4 L263.0,59.8 L263.7,59.2 L264.3,58.6 L265.0,57.9 L265.7,57.3 L270.7,57.3 L271.3,58.1 L272.0,58.8 L272.6,59.6 L273.2,60.3 L273.8,61.1 L274.5,61.9 L275.1,62.8 L275.7,63.8 L276.6,65.4 L277.5,67.3 L278.3,69.3 L279.2,71.4 L280.0,73.6 L280.9,75.8 L281.7,77.9 L282.5,80.0 L283.3,81.9 L284.0,83.8 L284.7,85.7 L285.5,87.5 L286.2,89.4 L286.9,91.3 L287.7,93.1 L288.4,95.0 L289.1,96.9 L289.9,98.8 L290.6,100.7 L291.4,102.6 L292.2,104.5 L292.9,106.4 L293.7,108.2 L294.5,110.0 L295.2,111.6 L296.0,113.2 L296.7,114.7 L297.4,116.2 L298.2,117.7 L299.0,119.2 L299.8,120.7 L300.6,122.2 L301.5,123.8 L302.6,125.5 L303.6,127.2 L304.7,128.9 L305.8,130.6 L306.8,132.2 L307.8,133.7 L308.8,135.1 L309.5,136.1 L310.1,137.0 L310.8,137.8 L311.4,138.6 L312.0,139.4 L312.6,140.3 L313.3,141.1 L314.0,142.0 L314.9,143.1 L315.9,144.3 L316.8,145.5 L317.9,146.8 L318.9,148.0 L319.9,149.2 L321.0,150.4 L322.0,151.6 L323.0,152.7 L323.9,153.7 L324.9,154.7 L325.9,155.8 L326.9,156.8 L327.9,157.7 L328.9,158.7 L330.0,159.7 L331.2,160.7 L332.3,161.7 L333.5,162.7 L334.7,163.6 L336.0,164.6 L337.3,165.5 L338.6,166.5 L340.0,167.5 L341.8,168.8 L343.8,170.1 L345.8,171.4 L347.9,172.8 L350.1,174.1 L352.2,175.4 L354.4,176.7 L356.5,177.9 L358.6,179.1 L360.6,180.2 L362.7,181.3 L364.8,182.4 L366.9,183.5 L369.1,184.5 L371.3,185.5 L373.7,186.5 L376.7,187.6 L379.8,188.6 L383.0,189.6 L386.3,190.6 L389.7,191.5 L393.0,192.4 L396.3,193.2 L399.4,194.0 L402.1,194.7 L404.6,195.3 L407.2,195.8 L409.7,196.4 L412.2,196.9 L414.7,197.4 L417.3,197.8 L420.0,198.3 L423.0,198.8 L426.2,199.2 L429.4,199.6 L432.7,200.0 L435.9,200.4 L439.1,200.8 L442.1,201.1 L445.0,201.5 L447.2,201.8 L449.3,202.1 L451.4,202.4 L453.3,202.7 L455.3,203.0 L457.3,203.3 L459.4,203.5 L461.5,203.8 L464.0,204.1 L466.5,204.3 L469.1,204.6 L471.7,204.8 L474.3,205.0 L476.9,205.2 L479.5,205.4 L482.0,205.6 L484.4,205.7 L486.8,205.8 L489.2,205.9 L491.5,206.0 L493.9,206.1 L496.3,206.1 L498.6,206.2 L501.0,206.3" fill="none" stroke="#000" stroke-width="1.6" stroke-linejoin="round"/><path d="M84.5,322.8 L86.0,322.7 L87.6,322.6 L89.1,322.5 L90.6,322.4 L92.2,322.3 L93.7,322.2 L95.2,322.1 L96.6,321.9 L97.9,321.7 L99.2,321.6 L100.5,321.4 L101.8,321.2 L103.0,321.0 L104.2,320.8 L105.3,320.6 L106.4,320.4 L107.1,320.2 L107.8,320.1 L108.5,319.9 L109.2,319.7 L109.8,319.5 L110.4,319.3 L111.1,319.1 L111.7,318.9 L112.4,318.7 L113.0,318.4 L113.7,318.1 L114.4,317.8 L115.0,317.6 L115.7,317.2 L116.3,316.9 L117.0,316.6 L117.7,316.2 L118.4,315.9 L119.0,315.4 L119.7,315.0 L120.4,314.6 L121.0,314.2 L121.7,313.8 L122.3,313.4 L122.8,313.1 L123.3,312.8 L123.9,312.5 L124.4,312.2 L124.8,311.9 L125.3,311.6 L125.8,311.2 L126.2,310.9 L126.6,310.6 L126.9,310.3 L127.2,310.0 L127.5,309.7 L127.8,309.4 L128.2,309.0 L128.5,308.7 L128.8,308.3 L129.2,307.8 L129.6,307.4 L130.1,306.8 L130.5,306.3 L131.0,305.8 L131.4,305.2 L131.8,304.6 L132.2,304.0 L132.7,303.2 L133.1,302.3 L133.6,301.4 L134.0,300.4 L134.5,299.5 L134.9,298.5 L135.2,297.5 L135.6,296.5 L135.9,295.5 L136.2,294.5 L136.5,293.5 L136.8,292.5 L137.0,291.5 L137.3,290.5 L137.5,289.5 L137.8,288.5 L138.1,287.5 L138.3,286.5 L138.6,285.5 L138.8,284.4 L139.1,283.4 L139.3,282.3 L139.6,281.2 L139.8,280.0 L140.1,278.2 L140.5,276.4 L140.8,274.4 L141.1,272.3 L141.5,270.2 L141.8,268.1 L142.2,266.0 L142.5,264.0 L142.9,262.0 L143.2,260.0 L143.6,258.0 L144.0,256.0 L144.4,254.0 L144.7,252.0 L145.1,250.0 L145.4,248.0 L145.7,246.0 L146.0,244.0 L146.2,242.0 L146.5,239.9 L146.7,237.9 L147.0,235.9 L147.2,233.9 L147.4,232.0 L147.6,230.2 L147.7,228.4 L147.9,226.5 L148.0,224.7 L148.2,223.0 L148.3,221.3 L148.5,219.7 L148.8,218.3 L149.0,217.4 L149.2,216.6 L149.5,215.8 L149.7,215.1 L150.0,214.3 L150.2,213.6 L150.5,212.8 L150.8,212.0 L151.2,211.0 L151.5,209.9 L151.9,208.7 L152.3,207.6 L152.7,206.4 L153.1,205.3 L153.5,204.1 L153.9,203.0 L154.3,203.9 L154.7,204.9 L155.2,205.8 L155.6,206.7 L156.0,207.6 L156.4,208.6 L156.8,209.6 L157.2,210.6 L157.7,212.0 L158.2,213.5 L158.7,215.0 L159.1,216.6 L159.6,218.2 L160.1,219.7 L160.5,221.2 L161.0,222.5 L161.4,223.4 L161.7,224.2 L162.1,225.0 L162.4,225.8 L162.8,226.5 L163.2,227.3 L163.6,228.1 L164.0,229.0 L164.6,230.2 L165.1,231.5 L165.8,232.9 L166.4,234.3 L167.0,235.7 L167.8,237.1 L168.5,238.4 L169.3,239.6 L170.1,240.6 L170.9,241.5 L171.8,242.4 L172.8,243.2 L173.7,244.1 L174.6,244.9 L175.6,245.7 L176.5,246.5 L177.4,247.4 L178.3,248.2 L179.1,249.1 L180.0,250.0 L180.9,250.8 L181.8,251.6 L182.7,252.4 L183.6,253.0 L184.4,253.5 L185.1,254.0 L185.9,254.5 L186.6,255.0 L187.4,255.3 L188.2,255.6 L189.0,255.7 L189.8,255.7 L190.9,255.4 L192.0,254.9 L193.2,254.1 L194.3,253.2 L195.5,252.2 L196.6,251.0 L197.7,249.8 L198.8,248.6 L199.9,246.9 L201.1,245.1 L202.1,243.0 L203.1,240.8 L204.1,238.6 L205.0,236.4 L206.0,234.1 L207.0,232.0 L208.1,229.9 L209.2,227.8 L210.3,225.7 L211.4,223.5 L212.5,221.4 L213.5,219.3 L214.5,217.1 L215.4,215.0 L216.2,212.9 L216.9,210.9 L217.5,208.8 L218.1,206.7 L218.7,204.7 L219.3,202.6 L219.9,200.6 L220.5,198.5 L221.1,196.5 L221.7,194.5 L222.3,192.4 L222.9,190.4 L223.5,188.4 L224.1,186.5 L224.7,184.5 L225.3,182.6 L225.8,180.9 L226.4,179.2 L226.9,177.6 L227.5,176.0 L228.0,174.4 L228.5,172.7 L229.1,171.1 L229.6,169.5 L234.2,165.0 L239.9,170.3 L240.5,171.4 L241.1,172.6 L241.6,173.7 L242.2,174.8 L242.8,175.9 L243.4,177.1 L243.9,178.3 L244.5,179.5 L245.1,181.0 L245.8,182.6 L246.4,184.2 L247.0,185.8 L247.6,187.5 L248.3,189.2 L248.9,190.9 L249.5,192.5 L250.1,194.1 L250.7,195.8 L251.3,197.5 L251.9,199.2 L252.5,200.8 L253.1,202.4 L253.7,204.0 L254.4,205.5 L255.0,206.7 L255.6,207.9 L256.2,209.1 L256.9,210.2 L257.5,211.3 L258.2,212.4 L258.8,213.4 L259.5,214.5 L260.1,215.5 L260.7,216.6 L261.3,217.6 L261.9,218.6 L262.6,219.5 L263.3,220.5 L264.1,221.5 L265.0,222.5 L266.5,223.9 L268.2,225.3 L270.0,226.7 L272.0,228.1 L274.1,229.5 L276.2,230.8 L278.4,232.2 L280.6,233.4 L283.1,234.7 L285.8,236.0 L288.5,237.3 L291.3,238.5 L294.2,239.6 L297.0,240.7 L299.8,241.8 L302.5,242.8 L304.9,243.7 L307.2,244.5 L309.5,245.3 L311.8,246.1 L314.2,246.8 L316.5,247.5 L318.8,248.3 L321.2,249.0 L323.9,249.8 L326.6,250.7 L329.3,251.5 L332.0,252.3 L334.8,253.1 L337.6,253.9 L340.3,254.6 L343.1,255.3 L345.8,255.9 L348.6,256.5 L351.4,257.1 L354.3,257.7 L357.0,258.2 L359.8,258.6 L362.4,259.0 L365.0,259.4 L367.1,259.7 L369.0,259.9 L371.0,260.0 L372.8,260.2 L374.7,260.3 L376.6,260.4 L378.6,260.5 L380.6,260.6 L382.9,260.7 L385.1,260.7 L387.4,260.7 L389.8,260.7 L392.1,260.7 L394.6,260.6 L397.2,260.6 L400.0,260.6 L404.3,260.6 L409.0,260.6 L414.1,260.7 L419.2,260.7 L424.4,260.7 L429.5,260.7 L434.2,260.6 L438.5,260.5 L441.3,260.4 L443.9,260.2 L446.4,260.1 L448.7,259.9 L451.1,259.7 L453.4,259.6 L455.7,259.4 L458.0,259.3 L460.2,259.2 L462.4,259.1 L464.6,259.1 L466.7,259.0 L468.9,258.9 L471.0,258.9 L473.0,258.9 L475.0,258.8 L476.6,258.7 L478.2,258.7 L479.7,258.6 L481.2,258.6 L482.7,258.5 L484.2,258.5 L485.7,258.5 L487.3,258.5 L489.0,258.5 L490.7,258.6 L492.4,258.7 L494.1,258.8 L495.8,258.9 L497.6,259.1 L499.3,259.2 L501.0,259.3" fill="none" stroke="#008000" stroke-width="1.6" stroke-linejoin="round"/></g><g stroke="#000" stroke-width="1.7" fill="none" stroke-linecap="butt"><path d="M83.65,20.0H501.0V327.5M491.0,266.00H501.0M491.0,204.50H501.0M491.0,143.00H501.0M491.0,81.50H501.0M126.20,20.0V30.5M209.57,20.0V30.5M292.95,20.0V30.5M376.32,20.0V30.5M459.70,20.0V30.5"/></g></svg>
<div class="yl" style="top:316.0px">0.0</div><div class="yl" style="top:254.5px">0.2</div><div class="yl" style="top:193.0px">0.4</div><div class="yl" style="top:131.5px">0.6</div><div class="yl" style="top:70.0px">0.8</div><div class="yl" style="top:8.5px">1.0</div><div class="xl" style="left:96.2px">530</div><div class="xl" style="left:179.6px">535</div><div class="xl" style="left:262.9px">540</div><div class="xl" style="left:346.3px">545</div><div class="xl" style="left:429.7px">550</div>
<div class="xt">Energy (eV)</div>
<div class="yt">X-ray absorption (arbitrary units)</div>
<div class="frame"></div>
</body></html>
